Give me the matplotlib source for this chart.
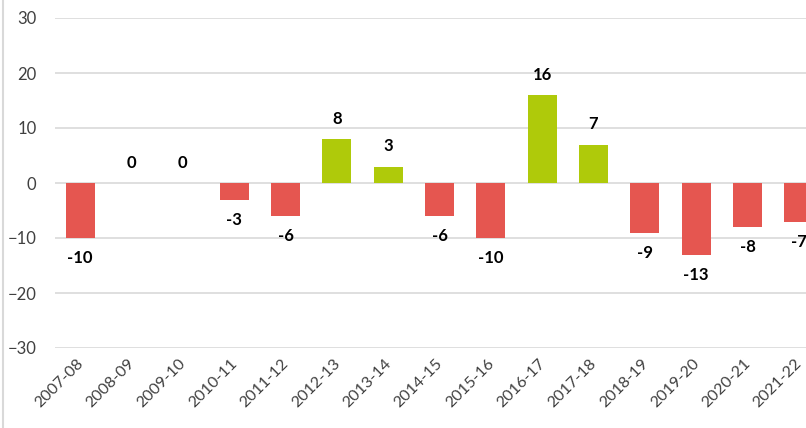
import matplotlib.pyplot as plt
import matplotlib.transforms as mtransforms
from matplotlib.lines import Line2D

plt.rcParams['font.family'] = ['Lato', 'DejaVu Sans']

years = ['2007-08', '2008-09', '2009-10', '2010-11', '2011-12', '2012-13', '2013-14',
         '2014-15', '2015-16', '2016-17', '2017-18', '2018-19', '2019-20', '2020-21', '2021-22']
values = [-10, 0, 0, -3, -6, 8, 3, -6, -10, 16, 7, -9, -13, -8, -7]

red = '#E55650'
green = '#AFCA0A'
colors = [green if v > 0 else red for v in values]

fig = plt.figure(figsize=(8.06, 4.28), dpi=100)
# plot area runs past the right edge, as in the cropped original
ax = fig.add_axes([54.5 / 806, 80 / 428, 770 / 806, 330 / 428])

x = range(len(years))
ax.bar(x, values, width=0.565, color=colors, zorder=2)

for i, v in enumerate(values):
    off = -14.5 if v < 0 else 14.5
    ax.annotate(str(v), (i, v), xytext=(0, off), textcoords='offset points',
                ha='center', va='center', fontsize=12, fontweight='bold', color='black')

ax.set_xlim(-0.5, len(years) - 0.5)
ax.set_ylim(-30, 30)
ax.set_yticks(range(-30, 31, 10))
ax.set_xticks(list(x))
ax.set_xticklabels(years, rotation=45, ha='right', rotation_mode='anchor')
ax.tick_params(axis='y', length=0, labelsize=12, colors='#404040', pad=13)
ax.tick_params(axis='x', length=0, labelsize=11.5, colors='#404040', pad=6)
ax.grid(axis='y', color='#D9D9D9', linewidth=1.2, zorder=0)
for s in ax.spines.values():
    s.set_visible(False)

# nudge the slanted year labels a little left so the last one stays in view
shift = mtransforms.ScaledTranslation(-4 / 100, 0, fig.dpi_scale_trans)
for lbl in ax.get_xticklabels():
    lbl.set_transform(lbl.get_transform() + shift)

# chart border on the left edge
fig.add_artist(Line2D([2.5 / 806, 2.5 / 806], [0, 1], color='#D9D9D9', linewidth=1.5))

fig.savefig('out.png', dpi=100)
